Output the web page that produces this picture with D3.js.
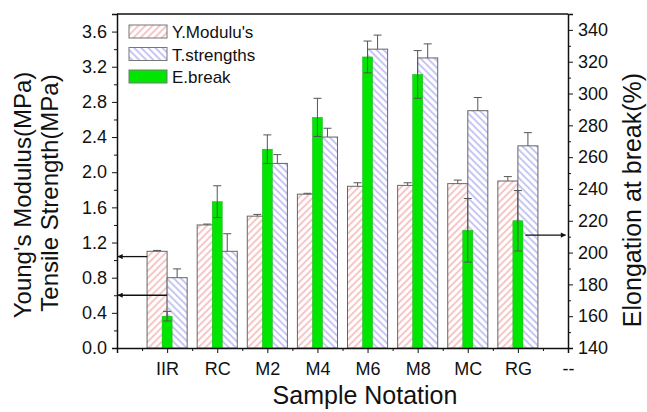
<!DOCTYPE html>
<html>
<head>
<meta charset="utf-8">
<script src="https://d3js.org/d3.v7.min.js"></script>
<style>
  body { margin: 0; background: #fff; }
  svg { font-family: "Liberation Sans", Arial, sans-serif; }
  .tick text { fill: #111; font-size: 18px; }
  .domain, .tick line { stroke: #111; }
</style>
</head>
<body>
<svg width="647" height="412"></svg>
<script>
// data
const categories = ['IIR', 'RC', 'M2', 'M4', 'M6', 'M8', 'MC', 'RG'];
const modulus    = [1.10, 1.40, 1.50, 1.75, 1.84, 1.85, 1.87, 1.90];
const modulusErr = [0.01, 0.01, 0.02, 0.01, 0.04, 0.03, 0.04, 0.05];
const tensile    = [0.80, 1.10, 2.10, 2.40, 3.40, 3.30, 2.70, 2.30];
const tensileErr = [0.10, 0.20, 0.10, 0.10, 0.16, 0.16, 0.15, 0.15];
const elong      = [160, 232, 265, 285, 323, 312, 214, 220];
const elongErr   = [3, 10, 9, 12, 10, 15, 20, 19];
const xLabels = categories.concat(['--']);
const leftTicks = [0, 0.4, 0.8, 1.2, 1.6, 2.0, 2.4, 2.8, 3.2, 3.6];
const rightTicks = [140, 160, 180, 200, 220, 240, 260, 280, 300, 320, 340];
const legendNames = ["Y.Modulu's", 'T.strengths', 'E.break'];

const svg = d3.select('svg');
const mLeft = 117, mRight = 568, mTop = 14, mBottom = 348;

const x = d3.scaleLinear().domain([0, 9]).range([mLeft, mRight]);
const yL = d3.scaleLinear().domain([0, 3.8]).range([mBottom, mTop]);
const yR = d3.scaleLinear().domain([140, 350]).range([mBottom, mTop]);

// hatch patterns
const defs = svg.append('defs');
function hatch(id, angle, color) {
  const p = defs.append('pattern')
    .attr('id', id)
    .attr('patternUnits', 'userSpaceOnUse')
    .attr('width', 5).attr('height', 5)
    .attr('patternTransform', `rotate(${angle})`);
  p.append('rect').attr('width', 5).attr('height', 5).attr('fill', '#fff');
  p.append('line').attr('x1', 1).attr('y1', 0).attr('x2', 1).attr('y2', 5)
    .attr('stroke', color).attr('stroke-width', 1);
}
hatch('redHatch', 45, '#f09090');
hatch('blueHatch', -45, '#9090ea');

const idx = d3.range(categories.length);
const pos = i => i + 1;

// red bars (Young's modulus)
svg.append('g').selectAll('rect').data(idx).join('rect')
  .attr('x', i => x(pos(i) - 0.4))
  .attr('y', i => yL(modulus[i]))
  .attr('width', x(0.4) - x(0))
  .attr('height', i => mBottom - yL(modulus[i]))
  .attr('fill', 'url(#redHatch)')
  .attr('stroke', '#666').attr('stroke-width', 1);

// blue bars (tensile strength)
svg.append('g').selectAll('rect').data(idx).join('rect')
  .attr('x', i => x(pos(i)))
  .attr('y', i => yL(tensile[i]))
  .attr('width', x(0.4) - x(0))
  .attr('height', i => mBottom - yL(tensile[i]))
  .attr('fill', 'url(#blueHatch)')
  .attr('stroke', '#666').attr('stroke-width', 1);

// green bars (elongation), on right axis
svg.append('g').selectAll('rect').data(idx).join('rect')
  .attr('x', i => x(pos(i) - 0.1))
  .attr('y', i => yR(elong[i]))
  .attr('width', x(0.2) - x(0))
  .attr('height', i => mBottom - yR(elong[i]))
  .attr('fill', '#00e600')
  .attr('stroke', '#22aa22').attr('stroke-width', 0.5);

// error bars
function errBars(cx, y0, y1, withLow, y2) {
  const g = svg.append('g').attr('stroke', '#555').attr('stroke-width', 1).attr('fill', 'none');
  idx.forEach(i => {
    const c = cx(i);
    const lo = withLow ? y2(i) : y0(i);
    g.append('line').attr('x1', c).attr('x2', c).attr('y1', lo).attr('y2', y1(i));
    g.append('line').attr('x1', c - 4).attr('x2', c + 4).attr('y1', y1(i)).attr('y2', y1(i));
    if (withLow) g.append('line').attr('x1', c - 4).attr('x2', c + 4).attr('y1', lo).attr('y2', lo);
  });
}
errBars(i => x(pos(i) - 0.2), i => yL(modulus[i]), i => yL(modulus[i] + modulusErr[i]), false);
errBars(i => x(pos(i) + 0.2), i => yL(tensile[i]), i => yL(tensile[i] + tensileErr[i]), false);
errBars(i => x(pos(i)), i => yR(elong[i]), i => yR(elong[i] + elongErr[i]), true,
  i => yR(elong[i] - elongErr[i]));

// axes
svg.append('g').attr('transform', `translate(0,${mBottom})`)
  .call(d3.axisBottom(x).tickValues(d3.range(1, 10)).tickSize(5).tickPadding(9)
    .tickFormat(d => xLabels[d - 1]));
svg.append('g').attr('transform', `translate(0,${mBottom})`)
  .call(d3.axisBottom(x).tickValues(d3.range(0.5, 9, 1)).tickSize(3).tickFormat(''))
  .select('.domain').remove();

svg.append('g').attr('transform', `translate(${mLeft},0)`)
  .call(d3.axisLeft(yL).tickValues(leftTicks).tickSize(5).tickPadding(5).tickFormat(d3.format('.1f')));
svg.append('g').attr('transform', `translate(${mLeft},0)`)
  .call(d3.axisLeft(yL).tickValues(leftTicks.map(d => d + 0.2)).tickSize(3).tickFormat(''))
  .select('.domain').remove();

svg.append('g').attr('transform', `translate(${mRight},0)`)
  .call(d3.axisRight(yR).tickValues(rightTicks).tickSize(5).tickPadding(5));
svg.append('g').attr('transform', `translate(${mRight},0)`)
  .call(d3.axisRight(yR).tickValues(rightTicks.map(d => d + 10)).tickSize(3).tickFormat(''))
  .select('.domain').remove();

svg.selectAll('.domain').attr('stroke-width', 1.5);

// top frame
svg.append('line').attr('x1', mLeft).attr('x2', mRight).attr('y1', mTop).attr('y2', mTop)
  .attr('stroke', '#111').attr('stroke-width', 1.5);

// arrows
defs.append('marker').attr('id', 'arrow')
  .attr('viewBox', '0 0 10 10').attr('refX', 9).attr('refY', 5)
  .attr('markerWidth', 5).attr('markerHeight', 4).attr('orient', 'auto')
  .append('path').attr('d', 'M0,0L10,5L0,10z').attr('fill', '#111');
function arrow(x1, y1, x2, y2) {
  svg.append('line').attr('x1', x1).attr('y1', y1).attr('x2', x2).attr('y2', y2)
    .attr('stroke', '#111').attr('stroke-width', 1.3).attr('marker-end', 'url(#arrow)');
}
arrow(x(0.6), yL(1.04), x(0.02), yL(1.04));
arrow(x(1), yL(0.6), x(0.02), yL(0.6));
arrow(x(8.15), yR(211), x(8.95), yR(211));

// legend
const legFills = ['url(#redHatch)', 'url(#blueHatch)', '#00e600'];
const leg = svg.append('g');
legendNames.forEach((name, i) => {
  leg.append('rect').attr('x', 129).attr('y', 25 + i * 22.5).attr('width', 38).attr('height', 13)
    .attr('fill', legFills[i]).attr('stroke', '#777');
  leg.append('text').attr('x', 172).attr('y', 38 + i * 22.5)
    .style('font-size', '17px').attr('fill', '#111').text(name);
});

// axis titles
svg.append('text').attr('x', 365).attr('y', 404).attr('text-anchor', 'middle')
  .style('font-size', '25px').attr('fill', '#111').text('Sample Notation');
svg.append('text').attr('transform', 'translate(31,195) rotate(-90)').attr('text-anchor', 'middle')
  .style('font-size', '24px').attr('fill', '#111').text("Young's Modulus(MPa)");
svg.append('text').attr('transform', 'translate(58,193) rotate(-90)').attr('text-anchor', 'middle')
  .style('font-size', '24px').attr('fill', '#111').text('Tensile Strength(MPa)');
svg.append('text').attr('transform', 'translate(641,200) rotate(-90)').attr('text-anchor', 'middle')
  .style('font-size', '25px').attr('fill', '#111').text('Elongation at break(%)');
</script>
</body>
</html>
